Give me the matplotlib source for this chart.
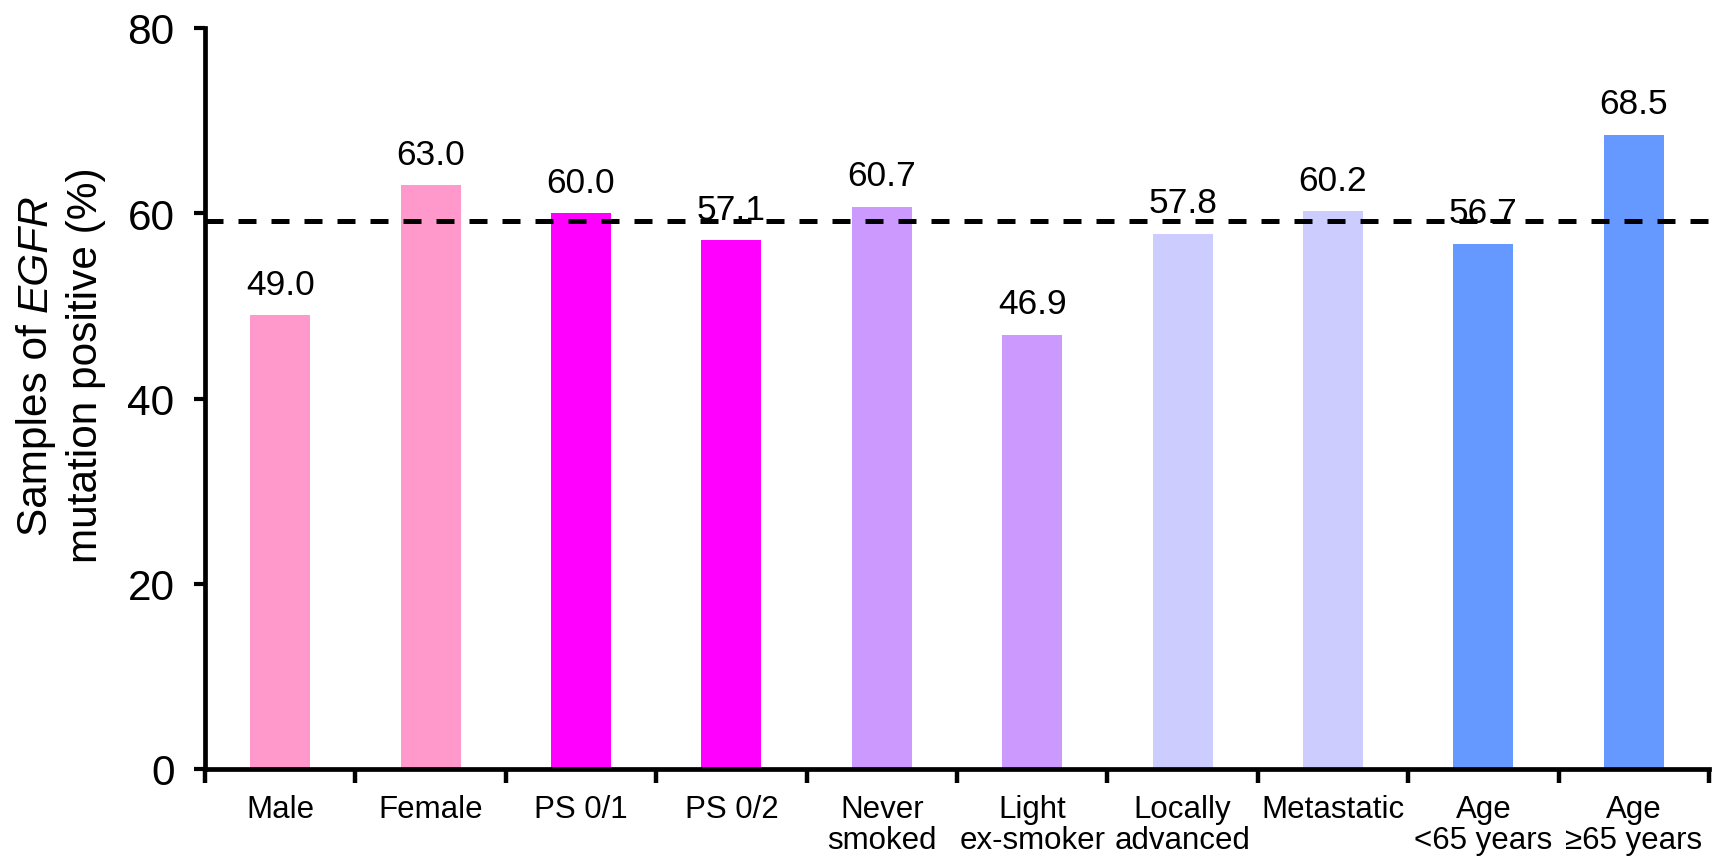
import matplotlib
matplotlib.use("Agg")
import matplotlib.pyplot as plt
from matplotlib.ticker import FixedLocator, NullFormatter

plt.rcParams["font.family"] = ["Liberation Sans", "DejaVu Sans"]

categories = ["Male", "Female", "PS 0/1", "PS 0/2", "Never\nsmoked",
              "Light\nex-smoker", "Locally\nadvanced", "Metastatic",
              "Age\n<65 years", "Age\n\u226565 years"]
values = [49.0, 63.0, 60.0, 57.1, 60.7, 46.9, 57.8, 60.2, 56.7, 68.5]
colors = ["#FF99CC", "#FF99CC", "#FF00FF", "#FF00FF", "#CC99FF",
          "#CC99FF", "#CCCCFF", "#CCCCFF", "#6699FF", "#6699FF"]
overall = 59.2
y_ticks = [0, 20, 40, 60, 80]

W, H = 1721, 862
fig = plt.figure(figsize=(W / 100, H / 100), dpi=100)
ax = fig.add_axes([205 / W, 1 - 770 / H, 1504 / W, 741 / H])

centers = [i + 0.5 for i in range(len(values))]
ax.bar(centers, values, width=0.4, color=colors, zorder=2)

for x, v in zip(centers, values):
    ax.annotate(f"{v:.1f}", (x, v), xytext=(0, 10.5), textcoords="offset points",
                ha="center", va="bottom", fontsize=25.5, zorder=4)

# overall rate across all samples
ax.axhline(overall, xmin=0, xmax=1.003, color="black", lw=3.6,
           dashes=(3.6, 3.0), clip_on=False, zorder=5)

ax.set_xlim(0, len(values))
ax.set_ylim(0, 80)
ax.set_yticks(y_ticks)
ax.tick_params(axis="y", labelsize=30.5, length=8, width=3, pad=14)

# boundary ticks as major, category labels on minor ticks
ax.xaxis.set_major_locator(FixedLocator(range(len(values) + 1)))
ax.xaxis.set_major_formatter(NullFormatter())
ax.xaxis.set_minor_locator(FixedLocator(centers))
ax.set_xticklabels(categories, minor=True)
ax.tick_params(axis="x", which="major", length=10, width=3.2, direction="out")
ax.tick_params(axis="x", which="minor", length=0, labelsize=22.5, pad=18)
for lab in ax.get_xticklabels(minor=True):
    lab.set_linespacing(1.05)

for side in ("top", "right"):
    ax.spines[side].set_visible(False)
for side in ("left", "bottom"):
    ax.spines[side].set_linewidth(3.4)

# two-line rotated y label with the gene name in italics
renderer = fig.canvas.get_renderer()
label_size = 30.5
space_px = 0.278 * label_size * 100 / 72
label_mid = H - 365  # vertical centre in pixels from bottom


def rotated_text(x_px, y_px, s, style="normal"):
    return fig.text(x_px / W, y_px / H, s, rotation=90, rotation_mode="anchor",
                    ha="left", va="baseline", fontsize=label_size, style=style)


def text_len(s, style="normal"):
    t = fig.text(0, 0, s, fontsize=label_size, style=style)
    w = t.get_window_extent(renderer).width
    t.remove()
    return w


part_a, part_b = "Samples of", "EGFR"
len_a = text_len(part_a) + space_px
len_b = text_len(part_b, "italic")
start1 = label_mid - (len_a + len_b) / 2
rotated_text(47, start1, part_a)
rotated_text(47, start1 + len_a, part_b, "italic")

line2 = "mutation positive (%)"
start2 = label_mid - text_len(line2) / 2
rotated_text(97, start2, line2)

fig.savefig("out.png", dpi=100)
